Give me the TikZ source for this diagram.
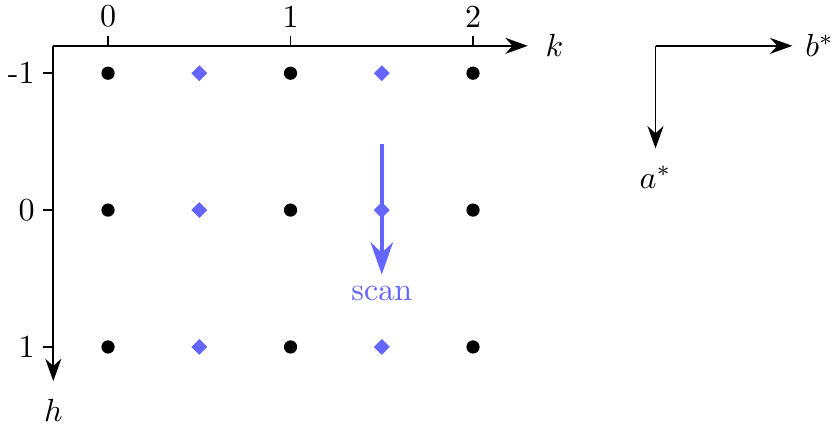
\documentclass[tikz,border=0pt]{standalone}
\usepackage{xcolor}
\usepackage{tikz}
\usetikzlibrary{arrows.meta,positioning,shapes.geometric}
\definecolor{scanblue}{RGB}{100,100,255}

\begin{document}
\begin{tikzpicture}[x=2cm,y=-1.5cm,
  axis/.style={-{Stealth[length=7pt,width=5pt]},line width=0.5pt},
  tickmark/.style={line width=0.5pt},
  ticklab/.style={inner sep=2.5pt},
  spot/.style={circle,fill=black,inner sep=0pt,minimum size=0.145cm},
  half/.style={diamond,fill=scanblue,inner sep=0pt,minimum size=0.18cm},
  scanarr/.style={-{Stealth[length=10pt,width=7pt]},line width=1.25pt,scanblue},
  node distance=2pt]
\useasboundingbox (-0.592,-1.535) rectangle (3.978,1.578);
% lattice axes
\coordinate (corner) at (-0.3,-1.2);
\coordinate (kend) at (2.3,-1.2);
\coordinate (hend) at (-0.3,1.25);
\draw[axis] (corner)--(kend);
\draw[axis] (corner)--(hend);
\node[right=2pt of kend] (klab) {$k$};
\node[below=2pt of hend] (hlab) {$h$};
\foreach \k in {0,1,2}{
  \coordinate (kt\k) at (\k,-1.2);
  \coordinate (ktop\k) at (\k,-1.27);
  \draw[tickmark] (kt\k)--(ktop\k);
  \node[ticklab,above=0pt of ktop\k] (kl\k) {\k};
}
\foreach \h in {-1,0,1}{
  \coordinate (ht\h) at (-0.3,\h);
  \coordinate (hleft\h) at (-0.355,\h);
  \draw[tickmark] (ht\h)--(hleft\h);
  \node[ticklab,left=0pt of hleft\h] (hl\h) {\h};
}
% scan direction
\coordinate (scantop) at (1.5,-0.48);
\coordinate (scanend) at (1.5,0.47);
\draw[scanarr] (scantop)--(scanend);
\node[below=0pt of scanend,text=scanblue] (scanlab) {scan};
% integer points
\node[spot] (s0t) at (0,-1) {};
\node[spot] (s1t) at (1,-1) {};
\node[spot] (s2t) at (2,-1) {};
\node[spot] (s0m) at (0,0) {};
\node[spot] (s1m) at (1,0) {};
\node[spot] (s2m) at (2,0) {};
\node[spot] (s0b) at (0,1) {};
\node[spot] (s1b) at (1,1) {};
\node[spot] (s2b) at (2,1) {};
% half-integer points
\node[half] (d0t) at (0.5,-1) {};
\node[half] (d1t) at (1.5,-1) {};
\node[half] (d0m) at (0.5,0) {};
\node[half] (d1m) at (1.5,0) {};
\node[half] (d0b) at (0.5,1) {};
\node[half] (d1b) at (1.5,1) {};
% reciprocal axes
\coordinate (rcorner) at (3,-1.2);
\coordinate (bend) at (3.75,-1.2);
\coordinate (aend) at (3,-0.45);
\draw[axis] (rcorner)--(bend);
\draw[axis] (rcorner)--(aend);
\node[right=0.5pt of bend] (blab) {$b^*$};
\node[below=2pt of aend] (alab) {$a^*$};
\end{tikzpicture}
\end{document}
